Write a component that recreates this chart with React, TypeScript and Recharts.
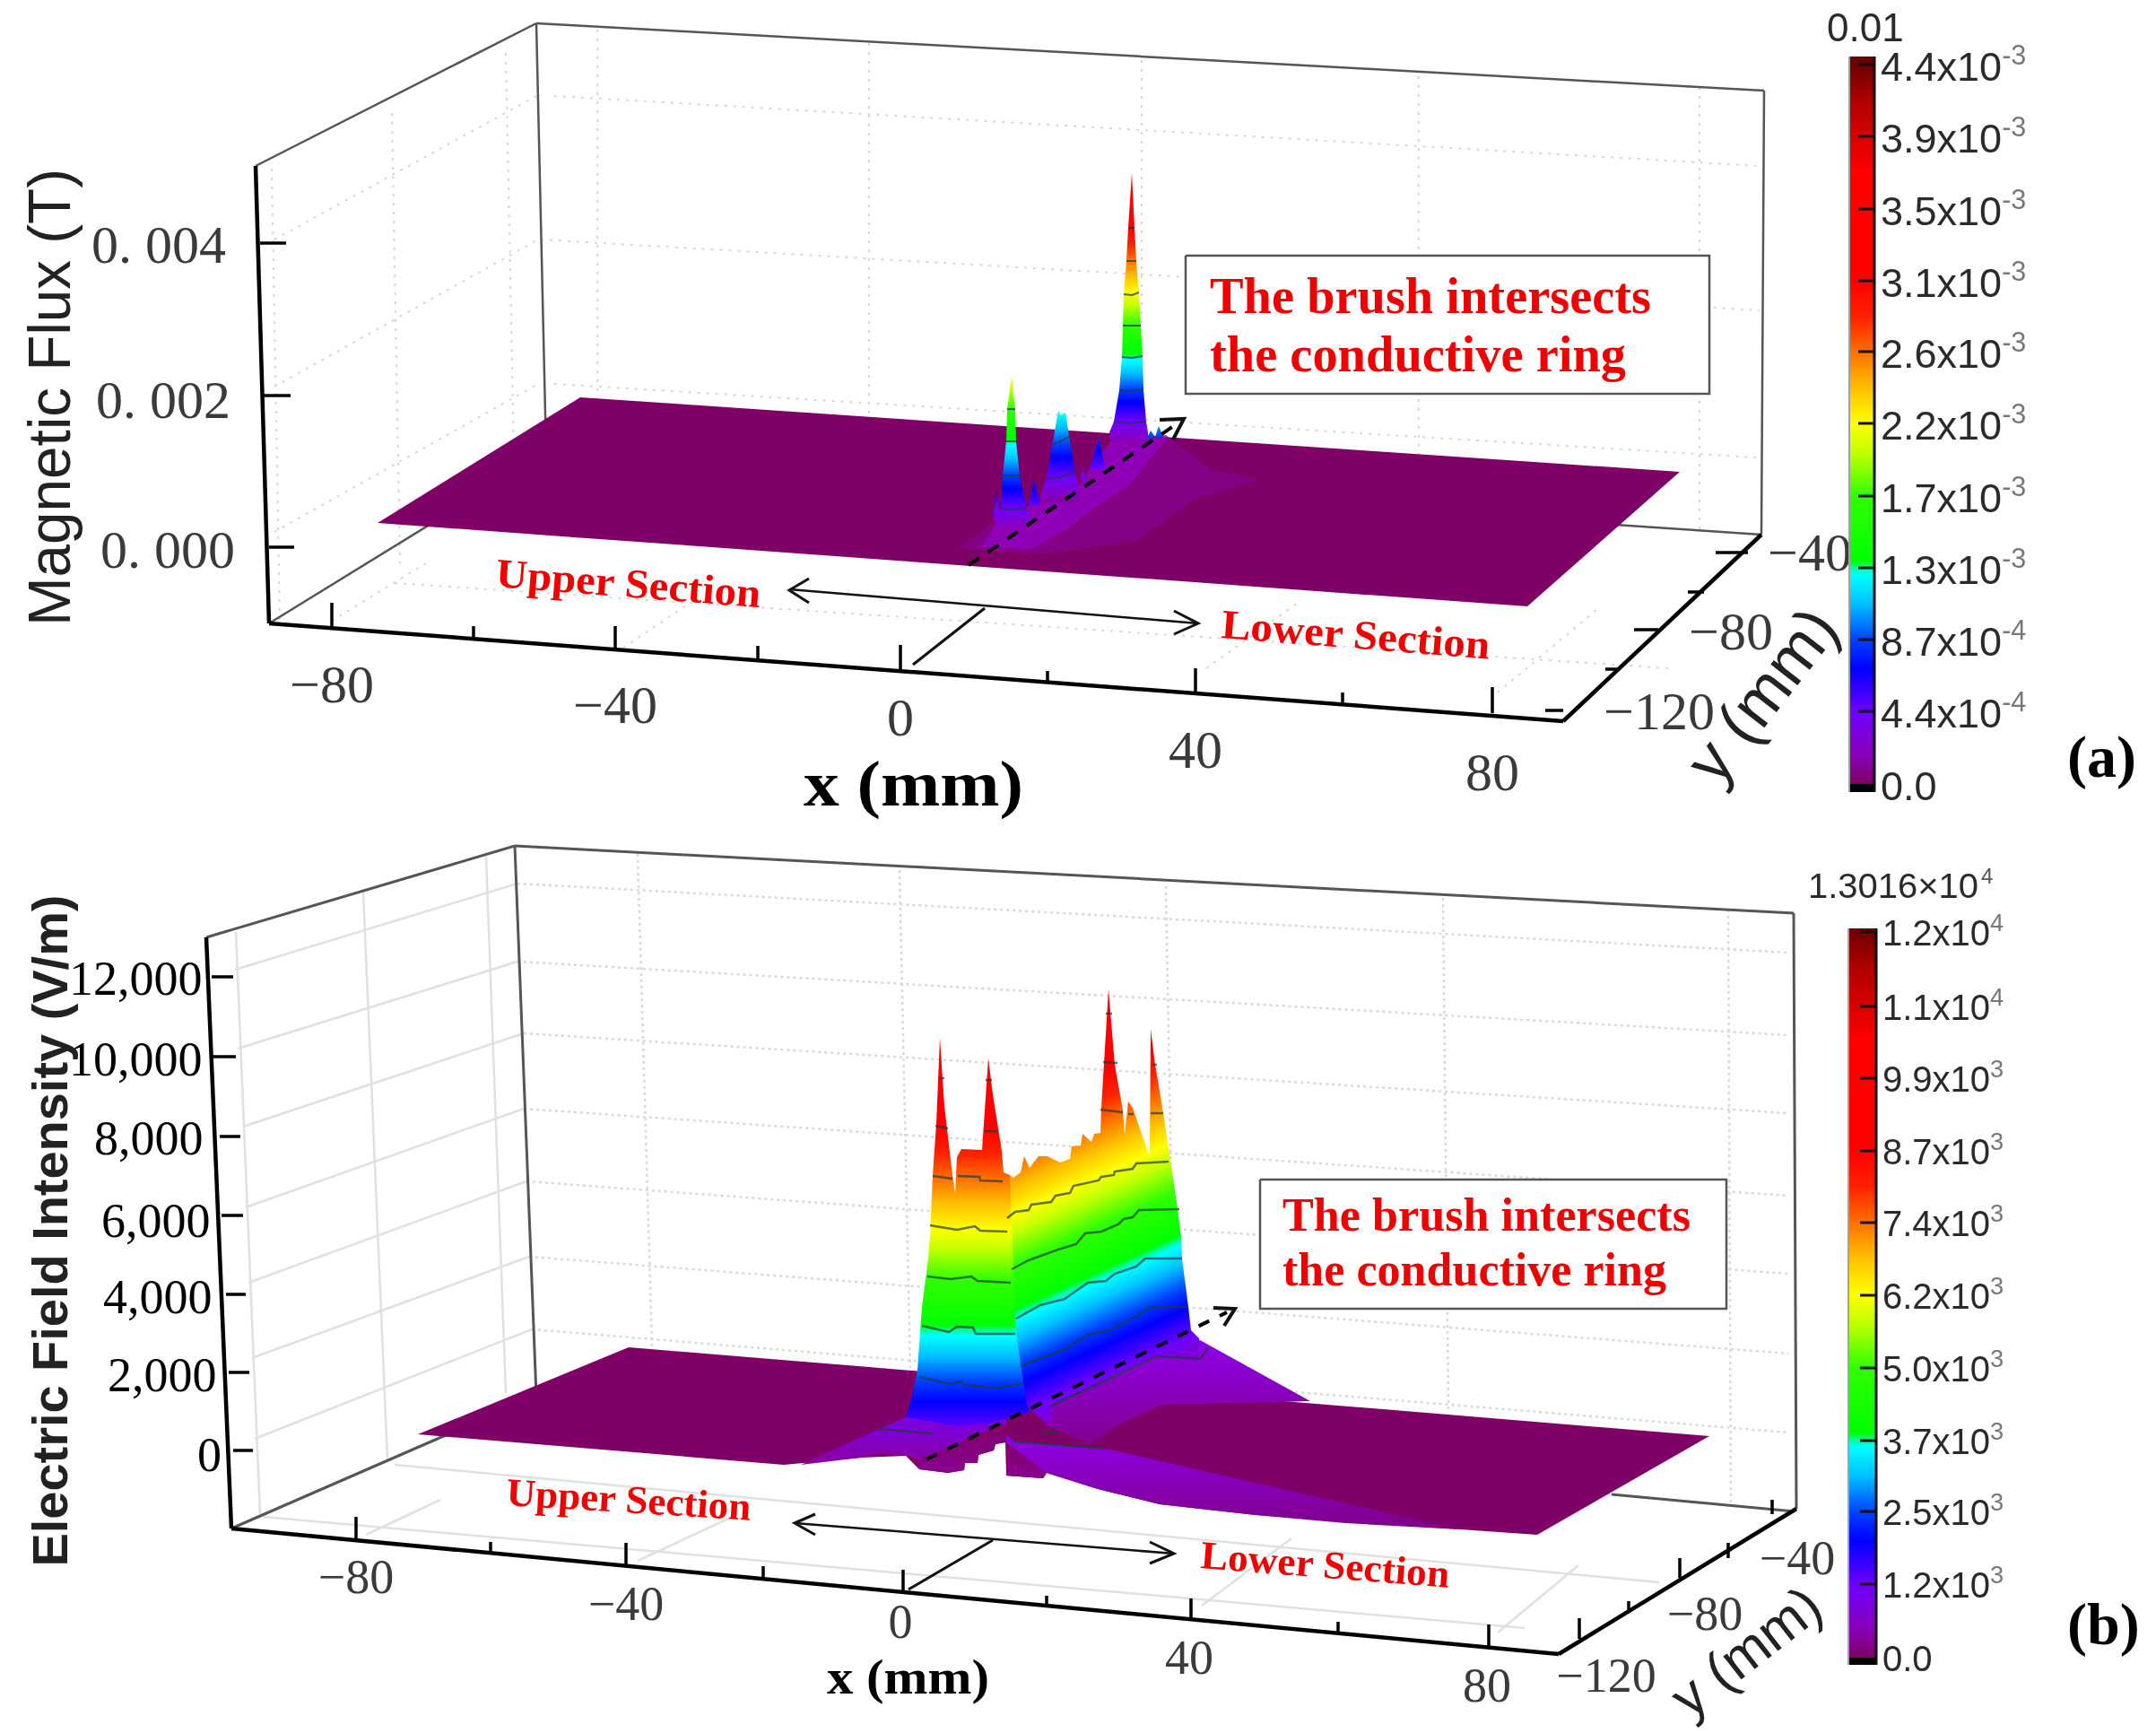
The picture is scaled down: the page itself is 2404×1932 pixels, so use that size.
import { Area, ComposedChart, Line, Scatter, XAxis, YAxis } from 'recharts';

// The figure is two 3D surfaces that are already flattened by their projection,
// so everything below is read off in the drawing plane (x right, y down).
type Pt = [number, number];
type Lbl = [string, number, number];

const WIDTH = 2404;
const HEIGHT = 1932;

// colour bar: position on the 10 tick scale and its colour
const colorTicks = [0, 0.4, 1, 1.6, 2, 2.5, 2.9, 3, 3.1, 4, 4.6, 5, 5.5, 6, 6.5, 7, 8.5, 9.5, 10];
const colorValues = ['#7f0066', '#8800b8', '#7000ff', '#0000ff', '#0040ff', '#00c0ff', '#00ffff', '#00ffa0', '#00ff00', '#30ff00', '#c0ff00', '#ffff00', '#ffc000', '#ff7000', '#ff2000', '#ff0000', '#ff0000', '#b00000', '#700000'];

/* ---------- panel (a) ---------- */
const aFrameThick: Pt[][] = [[[285, 185], [300, 695]], [[300, 695], [1743, 804]], [[1743, 804], [1964, 596]]];
const aFrameThin: Pt[][] = [[[285, 185], [598, 26]], [[598, 26], [1967, 101]], [[1967, 101], [1964, 596]], [[598, 26], [609, 505]], [[300, 695], [609, 505]], [[609, 505], [1964, 596]]];
const aGrid: Pt[][] = [
  [[618, 107], [1962, 185]], [[603, 267], [1962, 346]], [[618, 428], [1958, 510]],
  [[306, 267], [598, 107]], [[306, 431], [600, 267]], [[306, 593], [600, 428]],
  [[666, 33], [666, 505]], [[969, 48], [969, 525]], [[1273, 67], [1273, 545]], [[1582, 85], [1582, 570]], [[1895, 97], [1895, 592]],
  [[303, 188], [312, 692]], [[437, 126], [446, 628]], [[564, 59], [574, 557]],
  [[370, 692], [475, 628]], [[695, 722], [765, 675]], [[1345, 745], [1450, 670]], [[1670, 772], [1780, 680]],
  [[440, 650], [1860, 745]],
];
const aTicks: Pt[][] = [
  [[290, 271], [319, 271]], [[293, 441], [324, 441]], [[300, 610], [328, 610]],
  [[370, 672], [370, 698]], [[528, 698], [528, 710]], [[686, 698], [686, 722]], [[845, 720], [845, 735]],
  [[1004, 719], [1004, 748]], [[1168, 748], [1168, 760]], [[1333, 745], [1333, 772]], [[1497, 772], [1497, 783]], [[1664, 766], [1664, 795]],
  [[1913, 616], [1949, 616]], [[1882, 660], [1900, 660]], [[1822, 702], [1849, 702]], [[1790, 746], [1803, 746]], [[1723, 792], [1743, 792]],
];
const aPlateTop: Pt[] = [[421, 583], [647, 443], [1873, 526]];
const aPlateBottom: Pt[] = [[421, 583], [1703, 676], [1873, 526]];
const aMoundTop: Pt[] = [[1070, 610], [1107, 583], [1150, 563], [1217, 523], [1240, 490], [1300, 485], [1350, 523], [1400, 533]];
const aMoundBottom: Pt[] = [[1070, 612], [1157, 618], [1267, 603], [1330, 558], [1400, 535]];
const aCoreTop: Pt[] = [[1095, 608], [1110, 585], [1150, 563], [1205, 540], [1215, 523], [1240, 490], [1280, 490], [1300, 487]];
const aCoreBottom: Pt[] = [[1095, 610], [1150, 612], [1190, 590], [1215, 570], [1260, 540], [1300, 490]];
const aPeak1: Pt[] = [[1110, 583], [1116, 567], [1118, 530], [1122, 492], [1123, 456], [1128, 420], [1132, 456], [1133, 492], [1137, 530], [1145, 567], [1150, 583]];
const aPeak1Base: Pt[] = [[1110, 587], [1150, 587]];
const aPeak2: Pt[] = [[1160, 553], [1167, 532], [1174, 492], [1180, 458], [1183, 463], [1188, 460], [1193, 492], [1200, 532], [1203, 553]];
const aPeak2Base: Pt[] = [[1160, 560], [1203, 560]];
const aPeak3: Pt[] = [[1237, 482], [1242, 470], [1248, 435], [1251, 398], [1252, 363], [1253, 327], [1256, 291], [1258, 254], [1262, 193], [1265, 254], [1267, 291], [1270, 327], [1272, 363], [1274, 398], [1275, 435], [1278, 470], [1280, 482]];
const aPeak3Base: Pt[] = [[1237, 490], [1280, 490]];
const aSmallPeaks: Pt[][] = [
  [[1107, 580], [1111, 547], [1116, 580]],
  [[1147, 563], [1153, 535], [1160, 563]],
  [[1215, 523], [1225, 488], [1233, 523]],
  [[1205, 537], [1207, 520], [1212, 537]],
  [[1278, 490], [1283, 480], [1288, 487]],
  [[1288, 487], [1292, 475], [1297, 487]],
];
const aContours: Pt[][] = [
  [[1116, 567], [1130, 568], [1145, 567]], [[1118, 530], [1137, 530]], [[1122, 492], [1133, 492]], [[1123, 456], [1132, 456]],
  [[1174, 495], [1183, 492], [1193, 486]], [[1167, 534], [1183, 532], [1200, 525]],
  [[1258, 254], [1265, 254]], [[1256, 291], [1267, 291]], [[1253, 328], [1262, 329], [1270, 326]], [[1252, 363], [1272, 363]], [[1251, 398], [1262, 399], [1274, 397]], [[1248, 435], [1262, 436], [1275, 434]], [[1242, 470], [1260, 472], [1278, 470]],
];
const aFloorZero: Pt[] = [[1018, 741], [1098, 678]];
const aDashed: Pt[] = [[1080, 630], [1310, 474]];
const aArrowHead: Pt[] = [[1293, 468], [1320, 467], [1308, 490]];
const aDoubleArrow: Pt[] = [[880, 657], [1336, 695]];
const aHeadLeft: Pt[] = [[902, 645], [880, 658], [902, 672]];
const aHeadRight: Pt[] = [[1309, 681], [1336, 695], [1309, 707]];
const aBoxTop: Pt[] = [[1322, 285], [1906, 285]];
const aBoxBottom: Pt[] = [[1322, 439], [1906, 439]];
const aZLabels: Lbl[] = [['0. 004', 102, 273], ['0. 002', 107, 446], ['0. 000', 112, 613]];
const aXLabels: Lbl[] = [['−80', 370, 763], ['−40', 686, 786], ['0', 1004, 800], ['40', 1333, 836], ['80', 1664, 861]];
const aYLabels: Lbl[] = [['−40', 2018, 616], ['−80', 1930, 704], ['−120', 1850, 793]];
const aBarLabels = ['4.4', '3.9', '3.5', '3.1', '2.6', '2.2', '1.7', '1.3', '8.7', '4.4', '0.0'];
const aBarExponents = ['-3', '-3', '-3', '-3', '-3', '-3', '-3', '-3', '-4', '-4', ''];
const aBarTicks = [72, 152, 233, 313, 392, 472, 553, 633, 713, 793, 874];

/* ---------- panel (b) ---------- */
const bFrameThick: Pt[][] = [[[230, 1045], [258, 1704]], [[258, 1704], [1738, 1844]], [[1738, 1844], [2003, 1682]]];
const bFrameThin: Pt[][] = [[[230, 1045], [574, 943]], [[574, 943], [2000, 1018]], [[2000, 1018], [2003, 1682]], [[574, 943], [598, 1556]], [[258, 1704], [598, 1556]], [[1797, 1666], [2001, 1685]]];
const bWallLines: Pt[][] = [
  [[263, 1039], [290, 1688]], [[405, 994], [432, 1627]], [[542, 955], [564, 1553]],
  [[262, 1081], [577, 985]], [[265, 1169], [577, 1072]], [[271, 1256], [584, 1152]], [[274, 1346], [584, 1236]], [[277, 1430], [587, 1317]], [[281, 1514], [590, 1401]], [[284, 1604], [593, 1482]],
  [[598, 1556], [1797, 1666]], [[293, 1691], [1700, 1815]], [[440, 1633], [1850, 1764]],
  [[408, 1711], [491, 1672]], [[711, 1740], [823, 1688]], [[1340, 1790], [1440, 1715]], [[1670, 1820], [1760, 1745]],
];
const bGrid: Pt[][] = [
  [[577, 985], [1994, 1062]], [[577, 1072], [1994, 1154]], [[584, 1152], [1994, 1241]], [[584, 1236], [1994, 1333]], [[587, 1317], [1994, 1420]], [[590, 1401], [1994, 1509]], [[593, 1482], [1994, 1597]],
  [[711, 952], [727, 1501]], [[1003, 970], [1015, 1525]], [[1300, 988], [1310, 1545]], [[1609, 1001], [1615, 1575]], [[1927, 1014], [1930, 1678]],
];
const bTicks: Pt[][] = [
  [[236, 1089], [260, 1089]], [[237, 1178], [263, 1178]], [[245, 1267], [268, 1267]], [[247, 1355], [271, 1355]], [[252, 1443], [274, 1443]], [[255, 1530], [278, 1530]], [[260, 1617], [282, 1617]],
  [[397, 1691], [397, 1717]], [[547, 1719], [547, 1730]], [[698, 1720], [698, 1745]], [[851, 1746], [851, 1759]], [[1007, 1750], [1007, 1775]], [[1167, 1779], [1167, 1788]], [[1328, 1782], [1328, 1804]], [[1492, 1808], [1492, 1819]], [[1660, 1811], [1660, 1837]],
  [[1976, 1672], [1976, 1688]], [[1927, 1720], [1927, 1737]], [[1873, 1737], [1873, 1759]], [[1816, 1785], [1816, 1795]], [[1761, 1804], [1761, 1827]],
];
const bPlateTop: Pt[] = [[466, 1599], [701, 1502], [1906, 1601]];
const bPlateBottom: Pt[] = [[466, 1599], [874, 1633], [960, 1625], [1010, 1623], [1025, 1638], [1057, 1642], [1075, 1639], [1076, 1631], [1090, 1631], [1091, 1622], [1108, 1617], [1110, 1610], [1121, 1608], [1122, 1645], [1163, 1648], [1167, 1642], [1224, 1660], [1293, 1677], [1400, 1689], [1714, 1711], [1906, 1601]];
const bLeftSkirtTop: Pt[] = [[893, 1633], [976, 1595], [1010, 1580], [1122, 1580]];
const bLeftSkirtBottom: Pt[] = [[893, 1633], [960, 1625], [980, 1620], [1010, 1623], [1025, 1627], [1122, 1595]];
const bRightSkirtTop: Pt[] = [[1122, 1600], [1130, 1606], [1233, 1615], [1627, 1705]];
const bRightSkirtBottom: Pt[] = [[1122, 1645], [1163, 1648], [1167, 1642], [1224, 1660], [1293, 1677], [1400, 1689], [1500, 1698], [1627, 1705]];
const bStep1Top: Pt[] = [[1025, 1627], [1033, 1625], [1117, 1587], [1122, 1590]];
const bStep1Bottom: Pt[] = [[1025, 1638], [1057, 1642], [1075, 1639], [1076, 1631], [1090, 1631], [1091, 1622], [1108, 1617], [1110, 1610], [1122, 1608]];
const bStep2Top: Pt[] = [[1122, 1608], [1167, 1642]];
const bStep2Bottom: Pt[] = [[1122, 1645], [1163, 1648], [1167, 1642]];
const bMoundTop: Pt[] = [[1170, 1568], [1237, 1537], [1290, 1512], [1338, 1494], [1461, 1562]];
const bMoundBottom: Pt[] = [[1170, 1590], [1215, 1610], [1242, 1591], [1295, 1566], [1461, 1562]];
const bWallLeftTop: Pt[] = [[1010, 1580], [1017, 1557], [1023, 1527], [1028, 1457], [1035, 1403], [1037, 1377], [1040, 1310], [1044, 1253], [1048, 1157], [1053, 1233], [1062, 1310], [1065, 1330], [1067, 1290], [1072, 1281], [1095, 1282], [1102, 1180], [1107, 1220], [1117, 1283], [1119, 1307], [1126, 1310], [1147, 1565]];
const bWallLeftBottom: Pt[] = [[1010, 1580], [1070, 1590], [1107, 1586], [1147, 1575]];
const bWallRightTop: Pt[] = [[1126, 1310], [1130, 1313], [1138, 1307], [1142, 1289], [1148, 1302], [1158, 1289], [1168, 1289], [1182, 1296], [1193, 1292], [1195, 1278], [1205, 1277], [1207, 1264], [1217, 1273], [1220, 1264], [1227, 1263], [1228, 1235], [1236, 1103], [1243, 1187], [1252, 1238], [1254, 1265], [1258, 1228], [1263, 1235], [1282, 1290], [1283, 1147], [1288, 1187], [1297, 1240], [1305, 1293], [1313, 1347], [1317, 1380], [1318, 1403], [1325, 1457], [1328, 1483], [1337, 1492]];
const bWallRightBottom: Pt[] = [[1126, 1311], [1133, 1487], [1145, 1567], [1173, 1593], [1174, 1568], [1237, 1537], [1290, 1512], [1337, 1515]];
const bContours: Pt[][] = [
  [[1040, 1311], [1062, 1314]], [[1068, 1311], [1092, 1312], [1093, 1316], [1118, 1317]],
  [[1227, 1237], [1252, 1240]], [[1258, 1242], [1264, 1242]], [[1283, 1241], [1297, 1241]],
  [[1043, 1255], [1057, 1258]], [[1097, 1261], [1113, 1261]], [[1230, 1184], [1246, 1185]], [[1285, 1187], [1290, 1187]],
  [[1047, 1202], [1053, 1202]], [[1099, 1204], [1106, 1204]], [[1233, 1130], [1240, 1130]],
  [[1037, 1366], [1067, 1371], [1087, 1367], [1093, 1372], [1123, 1373]],
  [[1123, 1358], [1132, 1351], [1147, 1349], [1150, 1343], [1172, 1340], [1177, 1333], [1193, 1330], [1197, 1322], [1225, 1316], [1228, 1312], [1242, 1310], [1243, 1306], [1263, 1303], [1267, 1297], [1303, 1295]],
  [[1034, 1423], [1060, 1426], [1083, 1423], [1090, 1428], [1127, 1430]],
  [[1128, 1415], [1147, 1405], [1180, 1393], [1200, 1387], [1210, 1375], [1228, 1373], [1247, 1365], [1253, 1359], [1263, 1357], [1270, 1349], [1315, 1348]],
  [[1028, 1478], [1058, 1485], [1067, 1479], [1085, 1480], [1088, 1487], [1132, 1487]],
  [[1133, 1470], [1160, 1455], [1187, 1448], [1213, 1430], [1233, 1428], [1243, 1420], [1267, 1412], [1277, 1403], [1318, 1403]],
  [[1025, 1535], [1060, 1543], [1072, 1540], [1075, 1544], [1110, 1547], [1142, 1542]],
  [[1138, 1523], [1190, 1503], [1213, 1488], [1237, 1483], [1267, 1468], [1282, 1457], [1325, 1457]],
  [[1170, 1568], [1237, 1537], [1290, 1512], [1338, 1515], [1347, 1503]],
  [[980, 1593], [1040, 1598]], [[1160, 1597], [1180, 1597]], [[1130, 1607], [1233, 1615]],
];
const bFloorZero: Pt[] = [[1013, 1772], [1107, 1717]];
const bDashed: Pt[] = [[1033, 1627], [1368, 1463]];
const bArrowHead: Pt[] = [[1353, 1458], [1377, 1459], [1365, 1478]];
const bDoubleArrow: Pt[] = [[886, 1698], [1309, 1732]];
const bHeadLeft: Pt[] = [[909, 1688], [886, 1698], [909, 1711]];
const bHeadRight: Pt[] = [[1282, 1719], [1309, 1732], [1282, 1743]];
const bBoxTop: Pt[] = [[1405, 1315], [1925, 1315]];
const bBoxBottom: Pt[] = [[1405, 1459], [1925, 1459]];
const bZLabels: Lbl[] = [['12,000', 77, 1091], ['10,000', 77, 1181], ['8,000', 105, 1269], ['6,000', 113, 1361], ['4,000', 115, 1446], ['2,000', 120, 1533], ['0', 220, 1622]];
const bXLabels: Lbl[] = [['−80', 397, 1758], ['−40', 698, 1788], ['0', 1004, 1808], ['40', 1326, 1848], ['80', 1658, 1879]];
const bYLabels: Lbl[] = [['−40', 2004, 1737], ['−80', 1901, 1799], ['−120', 1791, 1868]];
const bBarLabels = ['1.2', '1.1', '9.9', '8.7', '7.4', '6.2', '5.0', '3.7', '2.5', '1.2', '0.0'];
const bBarExponents = ['4', '4', '3', '3', '3', '3', '3', '3', '3', '3', ''];
const bBarTicks = [1039, 1122, 1202, 1283, 1363, 1444, 1525, 1606, 1685, 1766, 1848];

const rows = (pts: Pt[]) => pts.map(([x, y]) => ({ x, y }));

// outline -> table for a range Area; every outline vertex is kept
const yAt = (pts: Pt[], x: number) => {
  for (let i = 1; i < pts.length; i++) {
    if (x <= pts[i][0]) {
      const [x0, y0] = pts[i - 1];
      const [x1, y1] = pts[i];
      return y0 + ((y1 - y0) * (x - x0)) / (x1 - x0 || 1);
    }
  }
  return pts[pts.length - 1][1];
};
const bandRows = (top: Pt[], bottom: Pt[]) => {
  const xs = Array.from(new Set([...top, ...bottom].map(p => p[0]))).sort((a, b) => a - b);
  return xs.map(x => ({ x, range: [yAt(bottom, x), yAt(top, x)] }));
};

const ramp = (id: string, y0: number, y10: number, x0 = 0, slope = 0) => {
  // isolines of the colour follow `slope`, y0 is tick 0 and y10 is tick 10 at x0
  const d = (y0 - y10) / (1 + slope * slope);
  return (
    <linearGradient key={id} id={id} gradientUnits="userSpaceOnUse" x1={x0} y1={y0} x2={x0 + slope * d} y2={y0 - d}>
      {colorTicks.map((t, i) => <stop key={t} offset={t / 10} stopColor={colorValues[i]} />)}
    </linearGradient>
  );
};

const fade = (id: string, from: string, to: string) => (
  <linearGradient key={id} id={id} x1="0" y1="0" x2="0" y2="1">
    <stop offset="0" stopColor={from} />
    <stop offset="1" stopColor={to} />
  </linearGradient>
);

export default function App() {
  let z = 10;
  let k = 0;
  const line = (pts: Pt[], stroke: string, width: number, dash?: string) => (
    <Line key={`l${k++}`} data={rows(pts)} dataKey="y" stroke={stroke} strokeWidth={width} strokeDasharray={dash}
      dot={false} activeDot={false} isAnimationActive={false} legendType="none" zIndex={z++} />
  );
  const lines = (list: Pt[][], stroke: string, width: number, dash?: string) => list.map(p => line(p, stroke, width, dash));
  const band = (top: Pt[], bottom: Pt[], fill: string, opacity = 1) => (
    <Area key={`a${k++}`} data={bandRows(top, bottom)} dataKey="range" type="linear" stroke="none" fill={fill} fillOpacity={opacity}
      dot={false} activeDot={false} isAnimationActive={false} legendType="none" zIndex={z++} />
  );
  const text = (items: Lbl[], font: Record<string, any>) => (
    <Scatter key={`t${k++}`} data={items.map(([label, x, y]) => ({ x, y, label }))} isAnimationActive={false} legendType="none" zIndex={z++}
      shape={(p: any) => (
        <text x={p.cx} y={p.cy} transform={font.rotate ? `rotate(${font.rotate} ${p.cx} ${p.cy})` : undefined} {...font} rotate={undefined}>
          {p.payload.label}
        </text>
      )} />
  );
  const barLabels = (labels: string[], exps: string[], ticks: number[], x: number, size: number, shift: number) => (
    <Scatter key={`t${k++}`} data={labels.map((label, i) => ({ x, y: ticks[i], label, exp: exps[i] }))} isAnimationActive={false} legendType="none" zIndex={z++}
      shape={(p: any) => (
        <text x={p.cx} y={p.cy + shift} dominantBaseline="central" fontFamily="Liberation Sans" fontSize={size} fill="#2a2a2a">
          {p.payload.label}
          {p.payload.exp ? <tspan>x10</tspan> : null}
          {p.payload.exp ? <tspan dy={-size * 0.3} fontSize={size * 0.68} fill="#777">{p.payload.exp}</tspan> : null}
        </text>
      )} />
  );

  const serifTick = { fontFamily: 'Liberation Serif', fontSize: 60, fill: '#3a3a3a', dominantBaseline: 'central' };
  const serifTickB = { ...serifTick, fontSize: 54 };
  const redSerif = { fontFamily: 'Liberation Serif', fontWeight: 700, fill: '#f00000' };

  return (
    <div style={{ position: 'absolute', left: 0, top: 0, width: WIDTH, height: HEIGHT, background: '#fff', filter: 'blur(0.7px)' }}>
      <ComposedChart width={WIDTH} height={HEIGHT} margin={{ top: 0, right: 0, bottom: 0, left: 0 }}>
        <defs>
          {ramp('barA', 874, 72)}
          {ramp('barB', 1848, 1039)}
          {ramp('peak1', 604, 234)}
          {ramp('peak2', 570, 195)}
          {ramp('peak3', 506, 146)}
          {ramp('small2', 560, 190)}
          {ramp('wallLeft', 1653, 1088)}
          {ramp('wallRight', 1600, 1035, 1210, -0.45)}
          {fade('skirtLeft', '#7a00e8', '#8a00a0')}
          {fade('skirtRight', '#8c00e8', '#800088')}
          {fade('step', '#7f0066', '#8a0090')}
          {fade('mound', '#8e00e8', '#820090')}
        </defs>
        <XAxis hide type="number" dataKey="x" domain={[0, WIDTH]} allowDataOverflow />
        <YAxis hide type="number" dataKey="y" domain={[0, HEIGHT]} reversed allowDataOverflow />

        {/* panel (a) */}
        {lines(aGrid, '#d6d6d6', 2, '3 7')}
        {lines(aFrameThin, '#555', 2.5)}
        {lines(aFrameThick, '#000', 4.5)}
        {lines(aTicks, '#000', 3.5)}
        {band(aPlateTop, aPlateBottom, '#7f0066')}
        {band(aMoundTop, aMoundBottom, '#86008c', 0.8)}
        {band(aCoreTop, aCoreBottom, '#9000c0', 0.85)}
        {aSmallPeaks.slice(0, 2).map(p => band(p, [p[0], p[2]], 'url(#peak1)'))}
        {aSmallPeaks.slice(2).map(p => band(p, [p[0], p[2]], 'url(#small2)'))}
        {band(aPeak1, aPeak1Base, 'url(#peak1)')}
        {band(aPeak2, aPeak2Base, 'url(#peak2)')}
        {band(aPeak3, aPeak3Base, 'url(#peak3)')}
        {lines(aContours, 'rgba(30,60,60,0.75)', 2)}
        {line(aFloorZero, '#111', 3)}
        {line(aDashed, '#000', 4, '14 12')}
        {line(aArrowHead, '#111', 4)}
        {line(aDoubleArrow, '#111', 2.5)}
        {line(aHeadLeft, '#111', 3)}
        {line(aHeadRight, '#111', 3)}
        {band(aBoxTop, aBoxBottom, '#fff')}
        {line([[1322, 285], [1906, 285], [1906, 439], [1322, 439], [1322, 285]], '#555', 2.5)}
        {text(aZLabels, serifTick)}
        {text(aXLabels, { ...serifTick, textAnchor: 'middle' })}
        {text(aYLabels, { ...serifTick, textAnchor: 'middle' })}
        {text([['Magnetic Flux (T)', 78, 443]], { fontFamily: 'Liberation Sans', fontSize: 66, fill: '#222', textAnchor: 'middle', rotate: -90, textLength: 510, lengthAdjust: 'spacingAndGlyphs' })}
        {text([['x (mm)', 896, 898]], { fontFamily: 'Liberation Serif', fontWeight: 700, fontSize: 72, fill: '#000', textLength: 245, lengthAdjust: 'spacingAndGlyphs' })}
        {text([['y (mm)', 1984, 790]], { fontFamily: 'Liberation Sans', fontSize: 72, fill: '#222', textAnchor: 'middle', rotate: -52 })}
        {text([['Upper Section', 552, 654]], { ...redSerif, fontSize: 46, rotate: 4.5, textLength: 296, lengthAdjust: 'spacingAndGlyphs' })}
        {text([['Lower Section', 1361, 711]], { ...redSerif, fontSize: 46, rotate: 4.5, textLength: 300, lengthAdjust: 'spacingAndGlyphs' })}
        {text([['The brush intersects', 1349, 349]], { ...redSerif, fontSize: 56, textLength: 492, lengthAdjust: 'spacingAndGlyphs' })}
        {text([['the conductive ring', 1349, 414]], { ...redSerif, fontSize: 56, textLength: 464, lengthAdjust: 'spacingAndGlyphs' })}
        {text([['(a)', 2305, 866]], { fontFamily: 'Liberation Serif', fontWeight: 700, fontSize: 66, fill: '#000' })}
        {band([[2062, 63], [2090, 63]], [[2062, 883], [2090, 883]], 'url(#barA)')}
        {band([[2062, 874], [2090, 874]], [[2062, 883], [2090, 883]], '#000')}
        {line([[2062, 63], [2062, 883]], '#9aa4a4', 2)}
        {line([[2090, 63], [2090, 883]], '#111', 3)}
        {aBarTicks.slice(0, 10).map(y => line([[2072, y], [2089, y]], '#111', 3))}
        {barLabels(aBarLabels, aBarExponents, aBarTicks, 2097, 45, 2)}
        {text([['0.01', 2037, 46]], { fontFamily: 'Liberation Sans', fontSize: 44, fill: '#2a2a2a' })}

        {/* panel (b) */}
        {lines(bWallLines, '#e0e0e0', 2.5)}
        {lines(bGrid, '#d8d8d8', 2.5, '3 4')}
        {lines(bFrameThin, '#555', 3)}
        {lines(bFrameThick, '#000', 4.5)}
        {lines(bTicks, '#000', 3.5)}
        {band(bPlateTop, bPlateBottom, '#7f0066')}
        {band(bMoundTop, bMoundBottom, 'url(#mound)')}
        {band(bLeftSkirtTop, bLeftSkirtBottom, 'url(#skirtLeft)')}
        {band(bRightSkirtTop, bRightSkirtBottom, 'url(#skirtRight)')}
        {band(bStep2Top, bStep2Bottom, 'url(#step)')}
        {band(bWallLeftTop, bWallLeftBottom, 'url(#wallLeft)')}
        {band(bStep1Top, bStep1Bottom, 'url(#step)')}
        {band(bWallRightTop, bWallRightBottom, 'url(#wallRight)')}
        {lines(bContours, 'rgba(30,60,60,0.7)', 2.5)}
        {line(bFloorZero, '#111', 3)}
        {line(bDashed, '#000', 4, '13 13')}
        {line(bArrowHead, '#111', 4)}
        {line(bDoubleArrow, '#111', 2.5)}
        {line(bHeadLeft, '#111', 3)}
        {line(bHeadRight, '#111', 3)}
        {band(bBoxTop, bBoxBottom, '#fff')}
        {line([[1405, 1315], [1925, 1315], [1925, 1459], [1405, 1459], [1405, 1315]], '#555', 2.5)}
        {text(bZLabels, { ...serifTickB, fill: '#000' })}
        {text(bXLabels, { ...serifTickB, textAnchor: 'middle' })}
        {text(bYLabels, { ...serifTickB, textAnchor: 'middle' })}
        {text([['Electric Field Intensity (V/m)', 75, 1372]], { fontFamily: 'Liberation Sans', fontWeight: 700, fontSize: 56, fill: '#222', textAnchor: 'middle', rotate: -90, textLength: 749, lengthAdjust: 'spacingAndGlyphs' })}
        {text([['x (mm)', 922, 1888]], { fontFamily: 'Liberation Serif', fontWeight: 700, fontSize: 54, fill: '#000', textLength: 181, lengthAdjust: 'spacingAndGlyphs' })}
        {text([['y (mm)', 1960, 1858]], { fontFamily: 'Liberation Sans', fontSize: 62, fill: '#222', textAnchor: 'middle', rotate: -38 })}
        {text([['Upper Section', 564, 1678]], { ...redSerif, fontSize: 44, rotate: 3.5, textLength: 273, lengthAdjust: 'spacingAndGlyphs' })}
        {text([['Lower Section', 1338, 1748]], { ...redSerif, fontSize: 44, rotate: 4.5, textLength: 278, lengthAdjust: 'spacingAndGlyphs' })}
        {text([['The brush intersects', 1430, 1372]], { ...redSerif, fontSize: 52, textLength: 455, lengthAdjust: 'spacingAndGlyphs' })}
        {text([['the conductive ring', 1430, 1433]], { ...redSerif, fontSize: 52, textLength: 428, lengthAdjust: 'spacingAndGlyphs' })}
        {text([['(b)', 2305, 1833]], { fontFamily: 'Liberation Serif', fontWeight: 700, fontSize: 66, fill: '#000' })}
        {band([[2061, 1035], [2092, 1035]], [[2061, 1856], [2092, 1856]], 'url(#barB)')}
        {band([[2061, 1848], [2092, 1848]], [[2061, 1856], [2092, 1856]], '#000')}
        {line([[2061, 1035], [2061, 1856]], '#9aa4a4', 2)}
        {line([[2092, 1035], [2092, 1856]], '#111', 3)}
        {bBarTicks.slice(0, 10).map(y => line([[2074, y], [2091, y]], '#111', 3))}
        {barLabels(bBarLabels, bBarExponents, bBarTicks, 2099, 40, 1)}
        {text([['1.3016×10', 2016, 1001]], { fontFamily: 'Liberation Sans', fontSize: 38, fill: '#2a2a2a', textLength: 190, lengthAdjust: 'spacingAndGlyphs' })}
        {text([['4', 2209, 985]], { fontFamily: 'Liberation Sans', fontSize: 24, fill: '#555' })}
      </ComposedChart>
    </div>
  );
}
